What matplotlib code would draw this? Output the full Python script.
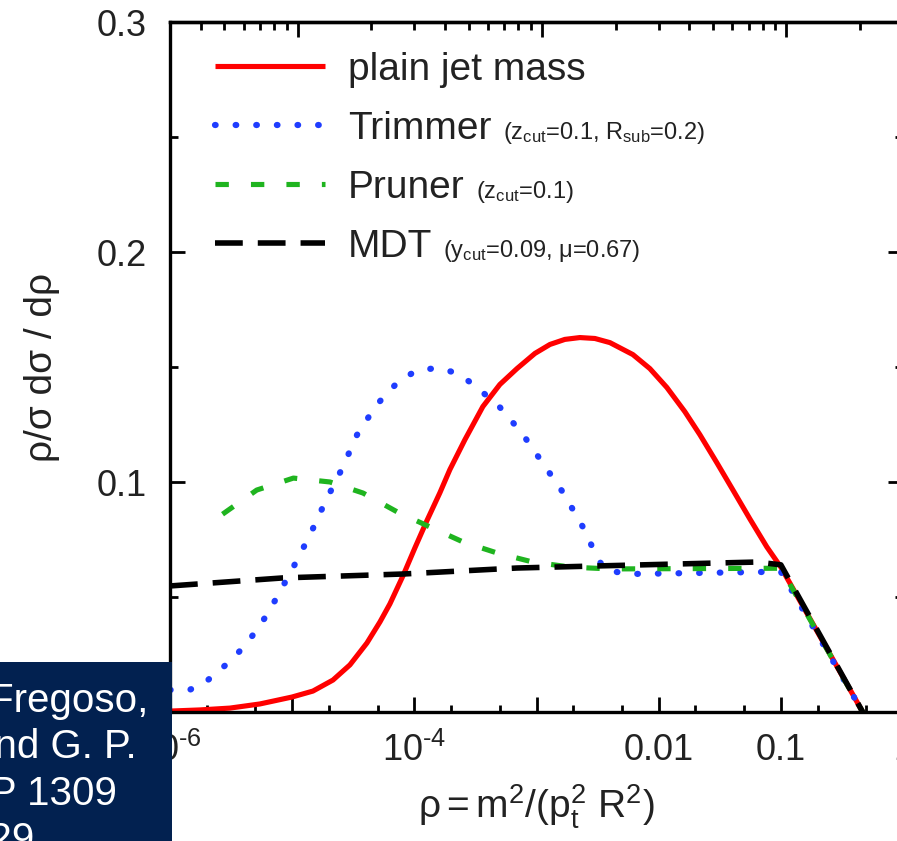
import numpy as np
import matplotlib
matplotlib.use('Agg')
import matplotlib.pyplot as plt
from matplotlib.patches import Rectangle
from matplotlib.ticker import FixedLocator, FixedFormatter, NullFormatter

plt.rcParams['font.family'] = ['Liberation Sans', 'DejaVu Sans']
plt.rcParams['mathtext.fontset'] = 'custom'
plt.rcParams['mathtext.rm'] = 'Liberation Sans'
plt.rcParams['mathtext.it'] = 'Liberation Sans:italic'
plt.rcParams['mathtext.bf'] = 'Liberation Sans:bold'
plt.rcParams['mathtext.default'] = 'regular'

# curves: log10(rho) and rho/sigma dsigma/drho
plain_lg = [-6.0, -5.755, -5.509, -5.264, -5.002, -4.830, -4.666, -4.527, -4.388, -4.281,
            -4.200, -4.093, -3.995, -3.897, -3.791, -3.709, -3.586, -3.439, -3.300, -3.160,
            -3.013, -2.890, -2.768, -2.645, -2.522, -2.399, -2.211, -2.072, -1.933, -1.786,
            -1.663, -1.524, -1.393, -1.254, -1.115, -1.0, -0.33]
plain_y = [0.0004, 0.0009, 0.0017, 0.0035, 0.0065, 0.0091, 0.0139, 0.0205, 0.0300, 0.0392,
           0.0470, 0.0592, 0.0714, 0.0832, 0.0953, 0.1054, 0.1184, 0.1328, 0.1424, 0.1493,
           0.1559, 0.1598, 0.1620, 0.1628, 0.1624, 0.1606, 0.1554, 0.1493, 0.1411, 0.1306,
           0.1206, 0.1084, 0.0966, 0.0840, 0.0718, 0.0630, 0.0]

trim_lg = [-6.0, -5.84, -5.71, -5.59, -5.48, -5.37, -5.29, -5.21, -5.124, -4.99,
           -4.854, -4.73, -4.59, -4.47, -4.31, -4.12, -3.979, -3.815, -3.668, -3.545,
           -3.316, -3.12, -2.95, -2.78, -2.62, -2.505, -2.44, -2.24, -1.0, -0.33]
trim_y = [0.0096, 0.0096, 0.013, 0.0183, 0.0235, 0.030, 0.0357, 0.042, 0.050, 0.063,
          0.077, 0.0913, 0.106, 0.1204, 0.1335, 0.1443, 0.1484, 0.1496, 0.1476, 0.1435,
          0.1335, 0.1213, 0.1083, 0.0952, 0.0804, 0.0674, 0.0617, 0.0600, 0.0610, 0.0]

prune_lg = [-5.57, -5.29, -4.99, -4.69, -4.42, -4.14, -3.87, -3.60, -3.32, -3.03,
            -2.72, -2.4, -1.0, -0.33]
prune_y = [0.0860, 0.0965, 0.1017, 0.100, 0.0952, 0.087, 0.0804, 0.0739, 0.0691, 0.0652,
           0.063, 0.0622, 0.0625, 0.0]

mdt_lg = [-6.0, -5.075, -4.09, -3.16, -2.505, -1.196, -1.0, -0.33]
mdt_y = [0.0548, 0.0583, 0.060, 0.0626, 0.0635, 0.0652, 0.0640, 0.0]

# top axis: jet mass in GeV, rho = m^2 / (pt R)^2
ptR = 3000.0

bottom_ticks = [1e-6, 1e-5, 1e-4, 1e-3, 1e-2, 1e-1, 1.0]
bottom_labels = ['$10^{‐6}$', '', '$10^{‐4}$', '', '0.01', '0.1', '1']
y_ticks = [0, 0.1, 0.2, 0.3]
y_labels = ['', '0.1', '0.2', '0.3']   # the 0 sits under the citation box
top_ticks = [10, 100, 1000]
top_labels = ['10', '100', '1000']

fig = plt.figure(figsize=(8.97, 8.41), dpi=100)
ax = fig.add_axes([170 / 897, 129 / 841, 733 / 897, 690 / 841])

ax.plot(10 ** np.array(plain_lg), plain_y, color='#ff0000', lw=3.7,
        solid_capstyle='butt', solid_joinstyle='round', label='plain jet mass')
ax.plot(10 ** np.array(trim_lg), trim_y, color='#1f3dff', lw=4.5,
        dashes=(0.1, 3.2), dash_capstyle='round', label='Trimmer')
ax.plot(10 ** np.array(prune_lg), prune_y, color='#1fb41f', lw=3.7,
        dashes=(2.6, 4.3), label='Pruner')
ax.plot(10 ** np.array(mdt_lg), mdt_y, color='black', lw=4,
        dashes=(5.0, 2.7), label='MDT')

ax.set_xscale('log')
ax.set_xlim(1e-6, 1.0)
ax.set_ylim(0, 0.3)

ax.xaxis.set_major_locator(FixedLocator(bottom_ticks))
ax.xaxis.set_major_formatter(FixedFormatter(bottom_labels))
minors = [m * d for d in [1e-6, 1e-5, 1e-4, 1e-3, 1e-2, 1e-1] for m in (2, 5)]
ax.xaxis.set_minor_locator(FixedLocator(minors))
ax.xaxis.set_minor_formatter(NullFormatter())
ax.yaxis.set_major_locator(FixedLocator(y_ticks))
ax.yaxis.set_major_formatter(FixedFormatter(y_labels))
ax.yaxis.set_minor_locator(FixedLocator([0.05, 0.15, 0.25]))

for s in ax.spines.values():
    s.set_linewidth(2.4)
ax.tick_params(which='both', direction='in', width=2.0, colors='black',
               labelcolor='#222222', labelsize=26)
ax.tick_params(axis='x', which='major', length=11, pad=15, top=False)
ax.tick_params(axis='x', which='minor', length=5, top=False)
ax.tick_params(axis='y', which='major', length=11, pad=17, right=True)
ax.tick_params(axis='y', which='minor', length=6, right=True)

secax = ax.secondary_xaxis('top', functions=(lambda r: ptR * np.sqrt(np.clip(r, 1e-30, None)),
                                             lambda m: (np.asarray(m) / ptR) ** 2))
secax.xaxis.set_major_locator(FixedLocator(top_ticks))
secax.xaxis.set_major_formatter(FixedFormatter(top_labels))
secax.xaxis.set_minor_locator(FixedLocator(
    [m * d for d in (1, 10, 100, 1000) for m in range(2, 10) if m * d <= 3000]))
secax.xaxis.set_minor_formatter(NullFormatter())
secax.spines['top'].set_linewidth(2.4)
secax.tick_params(which='both', direction='in', width=2.0,
                  labelcolor='#222222', labelsize=26)
secax.tick_params(which='major', length=11, pad=12)
secax.tick_params(which='minor', length=6)

ax.set_xlabel(r'$ρ = m^2/(p_t^2\ R^2)$', fontsize=28, color='#222222')
ax.xaxis.set_label_coords(0.5, -0.103)
ax.set_ylabel('ρ/σ dσ / dρ', fontsize=28, color='#222222')
ax.yaxis.set_label_coords(-0.150, 0.5)

leg = ax.legend(loc='upper left', bbox_to_anchor=(0.0614, 0.957), frameon=False,
                fontsize=28, handlelength=2.83, handletextpad=0.59,
                labelspacing=0.59, borderpad=0, borderaxespad=0)
for t in leg.get_texts():
    t.set_color('#222222')

# small parameter text after each legend entry
fig.canvas.draw()
renderer = fig.canvas.get_renderer()
params = [None, r'$(z_{cut}$=0.1, R$_{sub}$=0.2)', r'$(z_{cut}$=0.1)',
          r'$(y_{cut}$=0.09, μ=0.67)']
inv = ax.transAxes.inverted()
for t, p in zip(leg.get_texts(), params):
    if p is None:
        continue
    bb = t.get_window_extent(renderer)
    _, _, d = renderer.get_text_width_height_descent('lp', t.get_fontproperties(), ismath=False)
    x0, y0 = inv.transform((bb.x1 + 11, bb.y0 + d))
    ax.text(x0, y0, p, transform=ax.transAxes, fontsize=17, color='#222222',
            va='baseline', ha='left')

# citation box from the slide
fig.patches.append(Rectangle((0, 0), 172 / 897, 179 / 841, transform=fig.transFigure,
                             facecolor='#022150', edgecolor='none', zorder=5))
box_lines = ['A. Fregoso,', 'and G. P.', 'JHEP 1309', '029']
box_right = [148, 137, 117, 35]
box_base = [712, 758, 805, 851]
for s, xr, yb in zip(box_lines, box_right, box_base):
    fig.text(xr / 897, 1 - yb / 841, s, color='white', fontsize=29,
             ha='right', va='baseline', zorder=6)

fig.savefig('out.png', dpi=100)
